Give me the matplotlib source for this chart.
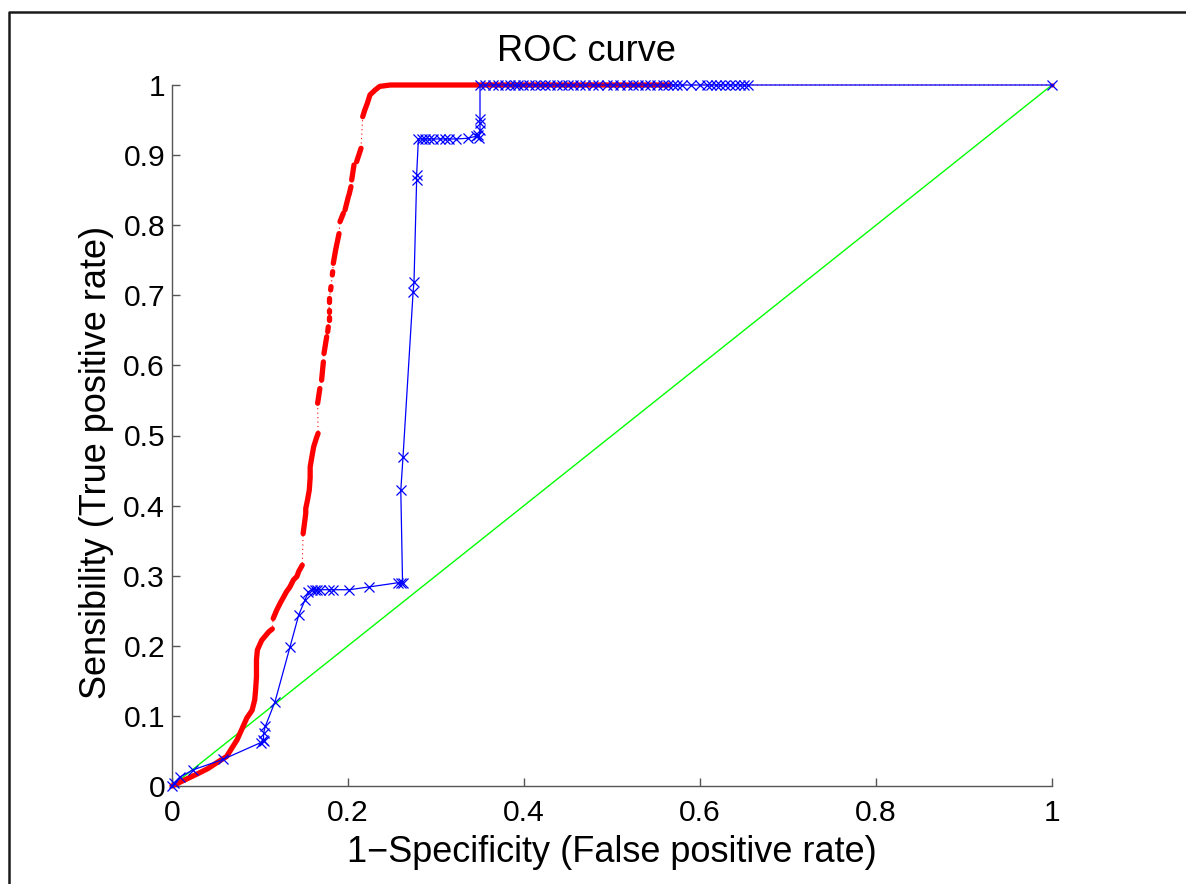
import numpy as np
import matplotlib
matplotlib.use("Agg")
import matplotlib.pyplot as plt
from matplotlib.lines import Line2D

plt.rcParams['font.family'] = ['Liberation Sans', 'DejaVu Sans']

# ---------------- data ----------------
# red ROC curve (dense points)
red_fpr = [0.000, 0.015, 0.030, 0.041, 0.053, 0.062, 0.068, 0.074, 0.079, 0.085,
           0.091, 0.094, 0.095, 0.096, 0.096, 0.097, 0.102, 0.110, 0.114,
           0.115, 0.119, 0.123, 0.127, 0.130, 0.134, 0.138, 0.142, 0.144, 0.148,
           0.149, 0.151, 0.152, 0.152, 0.154, 0.156, 0.157, 0.157, 0.159, 0.161, 0.164, 0.166,
           0.1655, 0.168,
           0.170, 0.172,
           0.1727, 0.1758,
           0.1769, 0.1776,
           0.178, 0.178,
           0.1784, 0.1784,
           0.1788, 0.1788,
           0.1803, 0.1807,
           0.1822, 0.1826,
           0.1833, 0.186, 0.1898,
           0.1909, 0.1947,
           0.1966, 0.2004,
           0.2011, 0.2034,
           0.2042, 0.2068,
           0.2098, 0.2148,
           0.2167, 0.219, 0.222, 0.225, 0.231, 0.236, 0.248, 0.300, 0.400, 0.500, 0.565,
           1.000]
red_tpr = [0.000, 0.009, 0.018, 0.025, 0.035, 0.042, 0.054, 0.066, 0.080, 0.097,
           0.108, 0.123, 0.137, 0.156, 0.180, 0.194, 0.208, 0.220, 0.224,
           0.239, 0.251, 0.261, 0.270, 0.277, 0.284, 0.294, 0.299, 0.306, 0.315,
           0.360, 0.379, 0.389, 0.396, 0.408, 0.422, 0.440, 0.455, 0.470, 0.484, 0.496, 0.503,
           0.546, 0.567,
           0.579, 0.605,
           0.617, 0.641,
           0.648, 0.655,
           0.665, 0.6695,
           0.6766, 0.679,
           0.691, 0.696,
           0.7076, 0.7123,
           0.729, 0.7337,
           0.7456, 0.765, 0.788,
           0.805, 0.817,
           0.8217, 0.8407,
           0.843, 0.855,
           0.8645, 0.886,
           0.8906, 0.9097,
           0.9548, 0.964, 0.974, 0.986, 0.993, 0.998, 1.000, 1.000, 1.000, 1.000, 1.000,
           1.000]
# index where each dense run of red points starts (runs end before the next start)
red_run_starts = [0, 19, 29, 41, 43, 45, 47, 49, 51, 53, 55, 57, 59, 62, 64, 66, 68, 70, 72, 83]

# blue ROC curve
blue_fpr = [0.000, 0.002, 0.009, 0.024, 0.058, 0.101, 0.103, 0.104, 0.104, 0.106,
            0.117, 0.134, 0.144, 0.151, 0.155, 0.159, 0.162, 0.165, 0.168, 0.178,
            0.183, 0.2015, 0.224, 0.257, 0.260, 0.262, 0.260, 0.2625, 0.274, 0.275,
            0.278, 0.278, 0.280, 0.284, 0.2875, 0.292, 0.297, 0.304, 0.310, 0.315,
            0.323, 0.336, 0.346, 0.348, 0.349, 0.350, 0.350, 0.350, 0.350,
            0.356, 0.365, 0.371, 0.378, 0.384, 0.390, 0.393, 0.399, 0.406, 0.4125,
            0.418, 0.424, 0.4295, 0.4375, 0.443, 0.450, 0.456, 0.4636, 0.469, 0.478,
            0.484, 0.494, 0.501, 0.509, 0.517, 0.524, 0.5295, 0.5375, 0.543, 0.551,
            0.558, 0.5636, 0.5693, 0.574, 0.580, 0.590, 0.600, 0.608, 0.612, 0.618,
            0.623, 0.628, 0.634, 0.640, 0.645, 0.650, 0.655, 1.000]
blue_tpr = [0.000, 0.004, 0.013, 0.023, 0.038, 0.062, 0.066, 0.064, 0.075, 0.085,
            0.120, 0.198, 0.244, 0.265, 0.277, 0.280, 0.280, 0.280, 0.280, 0.280,
            0.280, 0.280, 0.284, 0.290, 0.289, 0.290, 0.422, 0.469, 0.705, 0.719,
            0.865, 0.872, 0.923, 0.923, 0.923, 0.923, 0.923, 0.923, 0.923, 0.923,
            0.923, 0.924, 0.927, 0.929, 0.924, 0.936, 0.946, 0.952, 1.000,
            1.000, 1.000, 1.000, 1.000, 1.000, 1.000, 1.000, 1.000, 1.000, 1.000,
            1.000, 1.000, 1.000, 1.000, 1.000, 1.000, 1.000, 1.000, 1.000, 1.000,
            1.000, 1.000, 1.000, 1.000, 1.000, 1.000, 1.000, 1.000, 1.000, 1.000,
            1.000, 1.000, 1.000, 1.000, 1.000, 1.000, 1.000, 1.000, 1.000, 1.000,
            1.000, 1.000, 1.000, 1.000, 1.000, 1.000, 1.000, 1.000]

# chance line
diag_fpr = [0.0, 1.0]
diag_tpr = [0.0, 1.0]

xticks = [0, 0.2, 0.4, 0.6, 0.8, 1.0]
xtick_labels = ['0', '0.2', '0.4', '0.6', '0.8', '1']
yticks = [0, 0.1, 0.2, 0.3, 0.4, 0.5, 0.6, 0.7, 0.8, 0.9, 1.0]
ytick_labels = ['0', '0.1', '0.2', '0.3', '0.4', '0.5', '0.6', '0.7', '0.8', '0.9', '1']

# ---------------- figure ----------------
W, H = 1186, 884
fig = plt.figure(figsize=(W / 100, H / 100), dpi=100)
fig.patch.set_facecolor('white')
ax = fig.add_axes([172 / W, 1 - 786 / H, 880 / W, 701 / H])
ax.set_xlim(0, 1)
ax.set_ylim(0, 1)

# green diagonal
ax.plot(diag_fpr, diag_tpr, color='#00ff00', lw=1.0, zorder=2)

# red curve: thin dotted connection + thick dense runs
ax.plot(red_fpr, red_tpr, color='red', lw=0.8, ls=(0, (1, 3)), zorder=3, clip_on=False)
bounds = red_run_starts + [len(red_fpr)]
for s, e in zip(bounds[:-1], bounds[1:]):
    xs = red_fpr[s:e]
    ys = red_tpr[s:e]
    if len(xs) == 1:
        ax.plot(xs, ys, 'o', color='red', ms=3, mew=0, zorder=3, clip_on=False)
    else:
        ax.plot(xs, ys, color='red', lw=3.8, solid_capstyle='round',
                solid_joinstyle='round', zorder=3, clip_on=False)

# blue curve
ax.plot(blue_fpr, blue_tpr, color='blue', lw=0.9, marker='x', ms=7, mew=0.9,
        zorder=4, clip_on=False)

# axes styling (MATLAB-like, box off)
for side in ('top', 'right'):
    ax.spines[side].set_visible(False)
for side in ('left', 'bottom'):
    ax.spines[side].set_color('#555555')
    ax.spines[side].set_linewidth(1.0)

ax.set_xticks(xticks)
ax.set_xticklabels(xtick_labels)
ax.set_yticks(yticks)
ax.set_yticklabels(ytick_labels)
ax.tick_params(axis='both', direction='in', length=5.8, width=1.0, color='#555555',
               labelsize=21.6, labelcolor='black')
ax.tick_params(axis='x', pad=9.5)
ax.tick_params(axis='y', pad=5)

ax.set_xlabel('1\u2212Specificity (False positive rate)', fontsize=26)
ax.xaxis.label.set_va('baseline')
ax.xaxis.set_label_coords(0.5, (786 - 862) / 701)
ax.set_ylabel('Sensibility (True positive rate)', fontsize=26)
ax.yaxis.label.set_va('baseline')
ax.yaxis.set_label_coords((106 - 172) / 880, (786 - 462.5) / 701)

ax.set_title('ROC curve', fontsize=26, x=(586 - 172) / 880, pad=17.3)

# outer frame (top-left corner visible)
fig.add_artist(Line2D([8.5 / W, 8.5 / W, 1.0], [0.0, 1 - 11.5 / H, 1 - 11.5 / H],
                      transform=fig.transFigure, color='#1a1a1a', lw=1.8))

fig.savefig('out.png', dpi=100, facecolor='white')
